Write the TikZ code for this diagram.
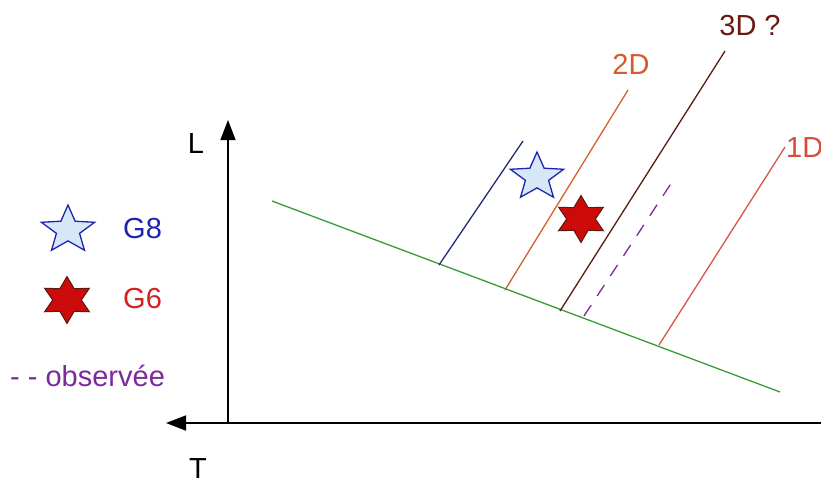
\documentclass[tikz,border=0pt]{standalone}
\usepackage{fontspec}
\setmainfont{Liberation Sans}
\usetikzlibrary{arrows.meta,shapes.geometric}
\definecolor{cgreen}{HTML}{3A9A3A}
\definecolor{cblue}{HTML}{1E2A7A}
\definecolor{corange}{HTML}{D2602E}
\definecolor{cbrown}{HTML}{5A1A12}
\definecolor{cred}{HTML}{D8544A}
\definecolor{cpurple}{HTML}{7B2A9C}
\definecolor{tblue}{HTML}{1C24B0}
\definecolor{tred}{HTML}{D42020}
\definecolor{t2d}{HTML}{D65A2A}
\definecolor{t3d}{HTML}{6A1A12}
\definecolor{t1d}{HTML}{D84A3A}
\definecolor{starblue}{HTML}{D6E8F8}
\definecolor{starred}{HTML}{CC0A0A}
\tikzset{
  lbl/.style={font=\fontsize{29}{34}\selectfont, inner sep=0pt},
  axis/.style={line width=1.6pt, black, -{Triangle[length=20pt,width=15pt]}},
  thin/.style={line width=1.3pt},
  stargeight/.style={star, star points=5, star point ratio=2.3, minimum size=50pt, inner sep=0pt, xscale=1.12, draw=tblue, fill=starblue, line width=1.3pt},
  starsix/.style={star, star points=6, star point ratio=1.8, minimum size=47pt, inner sep=0pt, xscale=1.1, draw=cbrown, fill=starred, line width=1pt}
}
\begin{document}
\begin{tikzpicture}[x=1pt,y=-1pt]
\useasboundingbox (0,0) rectangle (821,485);
% axes
\coordinate (O) at (228,423);
\coordinate (Ltip) at (228,120);
\coordinate (Ttip) at (166,423);
\coordinate (Rend) at (821,423);
\draw[axis] (O) -- (Ltip);
\draw[axis] (Rend) -- (Ttip);
\node[lbl] (L) at (196,144) {L};
\node[lbl] (T) at (198,469) {T};
% green line
\coordinate (g1) at (272,201);
\coordinate (g2) at (780,392);
\draw[thin, cgreen] (g1) -- (g2);
% parallel lines
\coordinate (b1) at (439,265); \coordinate (b2) at (523,141);
\coordinate (o1) at (505,290); \coordinate (o2) at (628,90);
\coordinate (d1) at (560,311); \coordinate (d2) at (725,51);
\coordinate (p1) at (584,316); \coordinate (p2) at (672,182);
\coordinate (r1) at (659,345); \coordinate (r2) at (785,147);
\draw[thin, cblue] (b1) -- (b2);
\draw[thin, corange] (o1) -- (o2);
\draw[thin, cbrown] (d1) -- (d2);
\draw[thin, cpurple, dash pattern=on 13pt off 11pt] (p1) -- (p2);
\draw[thin, cred] (r1) -- (r2);
% labels
\node[lbl, text=t2d] (l2d) at (631,64) {2D};
\node[lbl, text=t3d] (l3d) at (750,26) {3D ?};
\node[lbl, text=t1d, anchor=west] (l1d) at (786,148) {1D};
% stars
\node[stargeight] (s8) at (537,177) {};
\node[starsix] (s6) at (581,219) {};
% legend
\node[stargeight] (ls8) at (68,230) {};
\node[starsix] (ls6) at (67,300) {};
\node[lbl, text=tblue, anchor=west] (g8) at (123,229) {G8};
\node[lbl, text=tred, anchor=west] (g6) at (123,299) {G6};
\node[lbl, text=cpurple, anchor=west] (obs) at (10,376) {- - observée};
\end{tikzpicture}
\end{document}
